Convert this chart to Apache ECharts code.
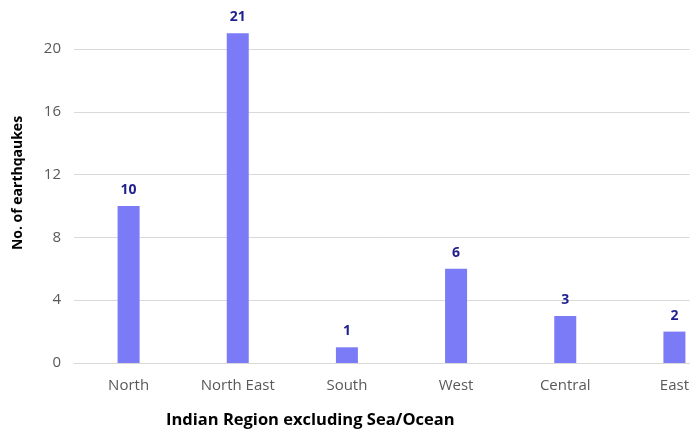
<!DOCTYPE html>
<html>
<head>
<meta charset="utf-8">
<script src="https://cdn.jsdelivr.net/npm/echarts@6/dist/echarts.min.js"></script>
<style>html,body{margin:0;padding:0;background:#fff;}#c{width:692px;height:436px;}</style>
</head>
<body>
<div id="c"></div>
<script>
var categories = ["North", "North East", "South", "West", "Central", "East"];
var values = [10, 21, 1, 6, 3, 2];
var yTicks = [0, 4, 8, 12, 16, 20];
var xTitle = "Indian Region excluding Sea/Ocean";
var yTitle = "No. of earthqaukes";

var positions = categories.map(function (c, i) { return i; });
var seriesData = values.map(function (v, i) { return [positions[i], v]; });

var chart = echarts.init(document.getElementById('c'));
chart.setOption({
  animation: false,
  grid: { left: 74, right: 0, top: 0, bottom: 73, containLabel: false },
  xAxis: {
    type: 'value',
    min: -0.5, max: 5.139,
    axisLine: { show: true, onZero: false, lineStyle: { color: '#d9d9d9', width: 1 } },
    axisTick: { show: false },
    splitLine: { show: false },
    axisLabel: { color: '#595959', fontSize: 15, fontFamily: 'Open Sans', margin: 15,
      customValues: positions,
      formatter: function (v) { var i = Math.round(v); return categories[i] || ''; } }
  },
  yAxis: {
    type: 'value',
    min: 0, max: 23.12, interval: 4,
    axisLine: { show: false },
    axisTick: { show: false },
    axisLabel: { color: '#595959', fontSize: 15, fontFamily: 'Open Sans', margin: 13,
      customValues: yTicks },
    splitLine: { showMaxLine: false, lineStyle: { color: '#d9d9d9', width: 1 } }
  },
  series: [{
    type: 'bar',
    data: seriesData,
    barWidth: 22,
    itemStyle: { color: '#7b7bf7' },
    label: { show: true, position: 'top', distance: 9, color: '#1f1f8f', fontWeight: 'bold', fontSize: 14, fontFamily: 'Open Sans',
      formatter: function (p) { return String(p.value[1]); } }
  }],
  graphic: [
    { type: 'text', left: 166, top: 412, style: { text: xTitle, fill: '#000', font: 'bold 16.5px "Open Sans"' } },
    { type: 'text', x: 11, y: 183, rotation: Math.PI / 2,
      style: { text: yTitle, fill: '#000', font: 'bold 14px "Open Sans"', align: 'center', verticalAlign: 'top' } }
  ]
});
</script>
</body>
</html>
